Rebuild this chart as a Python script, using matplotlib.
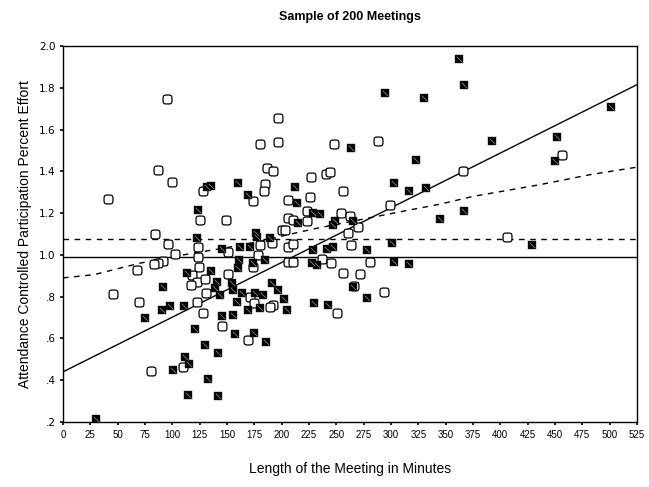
import numpy as np
import matplotlib
matplotlib.use('Agg')
import matplotlib.pyplot as plt
from matplotlib.path import Path

plt.rcParams['font.family'] = ['Liberation Sans', 'DejaVu Sans']

# pontos abertos (minutos, esforco)
aberto_x = [94.8, 86.6, 100.0, 40.9, 128.3, 173.5, 125.3, 148.8, 84.1, 180.2,
            196.9, 196.9, 186.3, 191.8, 184.8, 183.8, 226.8, 225.9, 206.1, 222.9,
            206.1, 210.6, 222.9, 200.0, 203.0, 96.3, 123.8, 102.4, 151.2, 180.2,
            190.9, 206.0, 210.0, 178.6, 123.8, 91.7, 86.6, 83.5, 67.4, 173.5,
            124.7, 117.7, 122.3, 116.8, 129.9, 151.2, 130.8, 122.3, 128.3, 145.2,
            171.0, 175.0, 192.3, 189.3, 169.5, 110.0, 206.0, 210.0, 46.0, 69.5,
            80.2, 248.1, 288.4, 240.6, 244.2, 255.8, 299.1, 254.0, 262.5, 270.1,
            261.0, 263.4, 236.6, 244.8, 280.8, 255.8, 271.6, 266.2, 293.9, 250.3,
            366.1, 456.7, 405.8]
aberto_y = [1.744, 1.408, 1.347, 1.269, 1.304, 1.256, 1.165, 1.165, 1.099, 1.531,
            1.656, 1.539, 1.416, 1.403, 1.339, 1.304, 1.373, 1.277, 1.264, 1.208,
            1.176, 1.168, 1.160, 1.120, 1.120, 1.053, 1.040, 1.005, 1.016, 1.048,
            1.059, 1.040, 1.053, 1.000, 0.992, 0.973, 0.960, 0.955, 0.928, 0.940,
            0.944, 0.904, 0.872, 0.856, 0.883, 0.907, 0.816, 0.776, 0.720, 0.659,
            0.800, 0.768, 0.760, 0.752, 0.592, 0.461, 0.968, 0.968, 0.811, 0.776,
            0.445, 1.531, 1.544, 1.387, 1.395, 1.304, 1.237, 1.200, 1.187, 1.133,
            1.107, 1.048, 0.979, 0.960, 0.968, 0.912, 0.907, 0.851, 0.824, 0.720,
            1.400, 1.477, 1.085]

# pontos cheios
cheio_x = [131.4, 135.1, 160.3, 169.5, 123.8, 122.3, 176.5, 212.2, 213.8, 229.0,
           215.2, 145.2, 177.4, 189.3, 161.9, 171.0, 229.0, 161.0, 160.4, 184.8,
           227.5, 232.0, 113.1, 135.1, 91.7, 140.6, 139.0, 154.3, 155.8, 143.6,
           163.4, 158.9, 175.6, 183.2, 190.9, 196.9, 202.1, 204.6, 169.5, 180.2,
           229.6, 97.9, 110.7, 90.3, 145.2, 155.2, 120.7, 157.3, 174.7, 185.7,
           129.9, 142.0, 111.6, 115.5, 100.3, 132.9, 114.6, 142.0, 75.0, 30.2,
           294.5, 330.2, 263.4, 322.6, 302.8, 331.7, 316.5, 235.0, 248.8, 247.2,
           265.0, 344.8, 300.6, 277.8, 241.2, 246.7, 303.0, 316.5, 173.5, 242.7,
           265.5, 277.8, 362.2, 367.1, 392.1, 452.1, 450.0, 501.2, 367.1, 429.3]
cheio_y = [1.323, 1.328, 1.344, 1.285, 1.216, 1.080, 1.104, 1.325, 1.248, 1.200,
           1.155, 1.027, 1.086, 1.080, 1.040, 1.040, 1.024, 0.976, 0.936, 0.976,
           0.960, 0.952, 0.912, 0.925, 0.848, 0.872, 0.840, 0.864, 0.832, 0.808,
           0.816, 0.776, 0.816, 0.808, 0.864, 0.832, 0.787, 0.736, 0.736, 0.744,
           0.768, 0.755, 0.755, 0.736, 0.707, 0.712, 0.643, 0.620, 0.624, 0.584,
           0.568, 0.528, 0.509, 0.480, 0.448, 0.408, 0.328, 0.323, 0.699, 0.213,
           1.773, 1.749, 1.512, 1.456, 1.344, 1.320, 1.304, 1.197, 1.163, 1.144,
           1.160, 1.173, 1.056, 1.024, 1.029, 1.037, 0.968, 0.955, 0.960, 0.760,
           0.848, 0.795, 1.936, 1.811, 1.544, 1.565, 1.448, 1.709, 1.208, 1.048]

# linhas de referencia
media_geral = 0.989
media_aberto = 1.077
reta_x = [0, 525]
reta_y = [0.44, 1.815]
suave_x = [0, 28, 70, 110, 150, 180, 205, 230, 278, 317, 345, 375, 436, 482, 525]
suave_y = [0.89, 0.905, 0.96, 1.0, 1.035, 1.065, 1.096, 1.125, 1.175, 1.215,
           1.243, 1.28, 1.336, 1.384, 1.42]

xticks = list(range(0, 526, 25))
yticks = [0.2, 0.4, 0.6, 0.8, 1.0, 1.2, 1.4, 1.6, 1.8, 2.0]
ylabels = ['.2', '.4', '.6', '.8', '1.0', '1.2', '1.4', '1.6', '1.8', '2.0']

# quadrado de cantos arredondados
t = np.linspace(0, 2*np.pi, 60)
quad_red = np.column_stack([np.sign(np.cos(t))*np.abs(np.cos(t))**0.5,
                            np.sign(np.sin(t))*np.abs(np.sin(t))**0.5])
diag = Path([(-1, 1), (1, -1)], [Path.MOVETO, Path.LINETO])

fig = plt.figure(figsize=(6.49, 4.87), dpi=100)
ax = fig.add_axes([0.0971, 0.1335, 0.8844, 0.772])

ax.axhline(media_geral, color='black', lw=1.0, zorder=1)
ax.axhline(media_aberto, color='black', lw=1.0, ls=(0, (4, 4)), zorder=1)
ax.plot(reta_x, reta_y, color='black', lw=1.0, zorder=1)
ax.plot(suave_x, suave_y, color='black', lw=1.0, ls=(0, (4, 4)), zorder=1)

ax.plot(aberto_x, aberto_y, ls='none', marker=quad_red, ms=6.4,
        mfc='white', mec='black', mew=0.9, zorder=3)
ax.plot(cheio_x, cheio_y, ls='none', marker='s', ms=5.6,
        mfc='black', mec='#222222', mew=0.3, zorder=4)
ax.plot(cheio_x, cheio_y, ls='none', marker=diag, ms=4.0,
        mec='#9a9a9a', mew=0.5, zorder=5)

ax.set_xlim(0, 525)
ax.set_ylim(0.2, 2.0)
ax.set_xticks(xticks)
ax.set_xticklabels([str(v) for v in xticks], fontsize=7)
ax.set_yticks(yticks)
ax.set_yticklabels(ylabels, fontsize=7.5, family=['DejaVu Sans'])
ax.tick_params(direction='out', length=2.5, width=1.2, pad=3)
for lado in ax.spines.values():
    lado.set_linewidth(1.0)

ax.set_title('Sample of 200 Meetings', fontsize=9, fontweight='bold', pad=19)
ax.set_xlabel('Length of the Meeting in Minutes', fontsize=10, labelpad=16)
ax.set_ylabel('Attendance Controlled Participation Percent Effort', fontsize=10, labelpad=5)

plt.savefig('out.png', dpi=100)
